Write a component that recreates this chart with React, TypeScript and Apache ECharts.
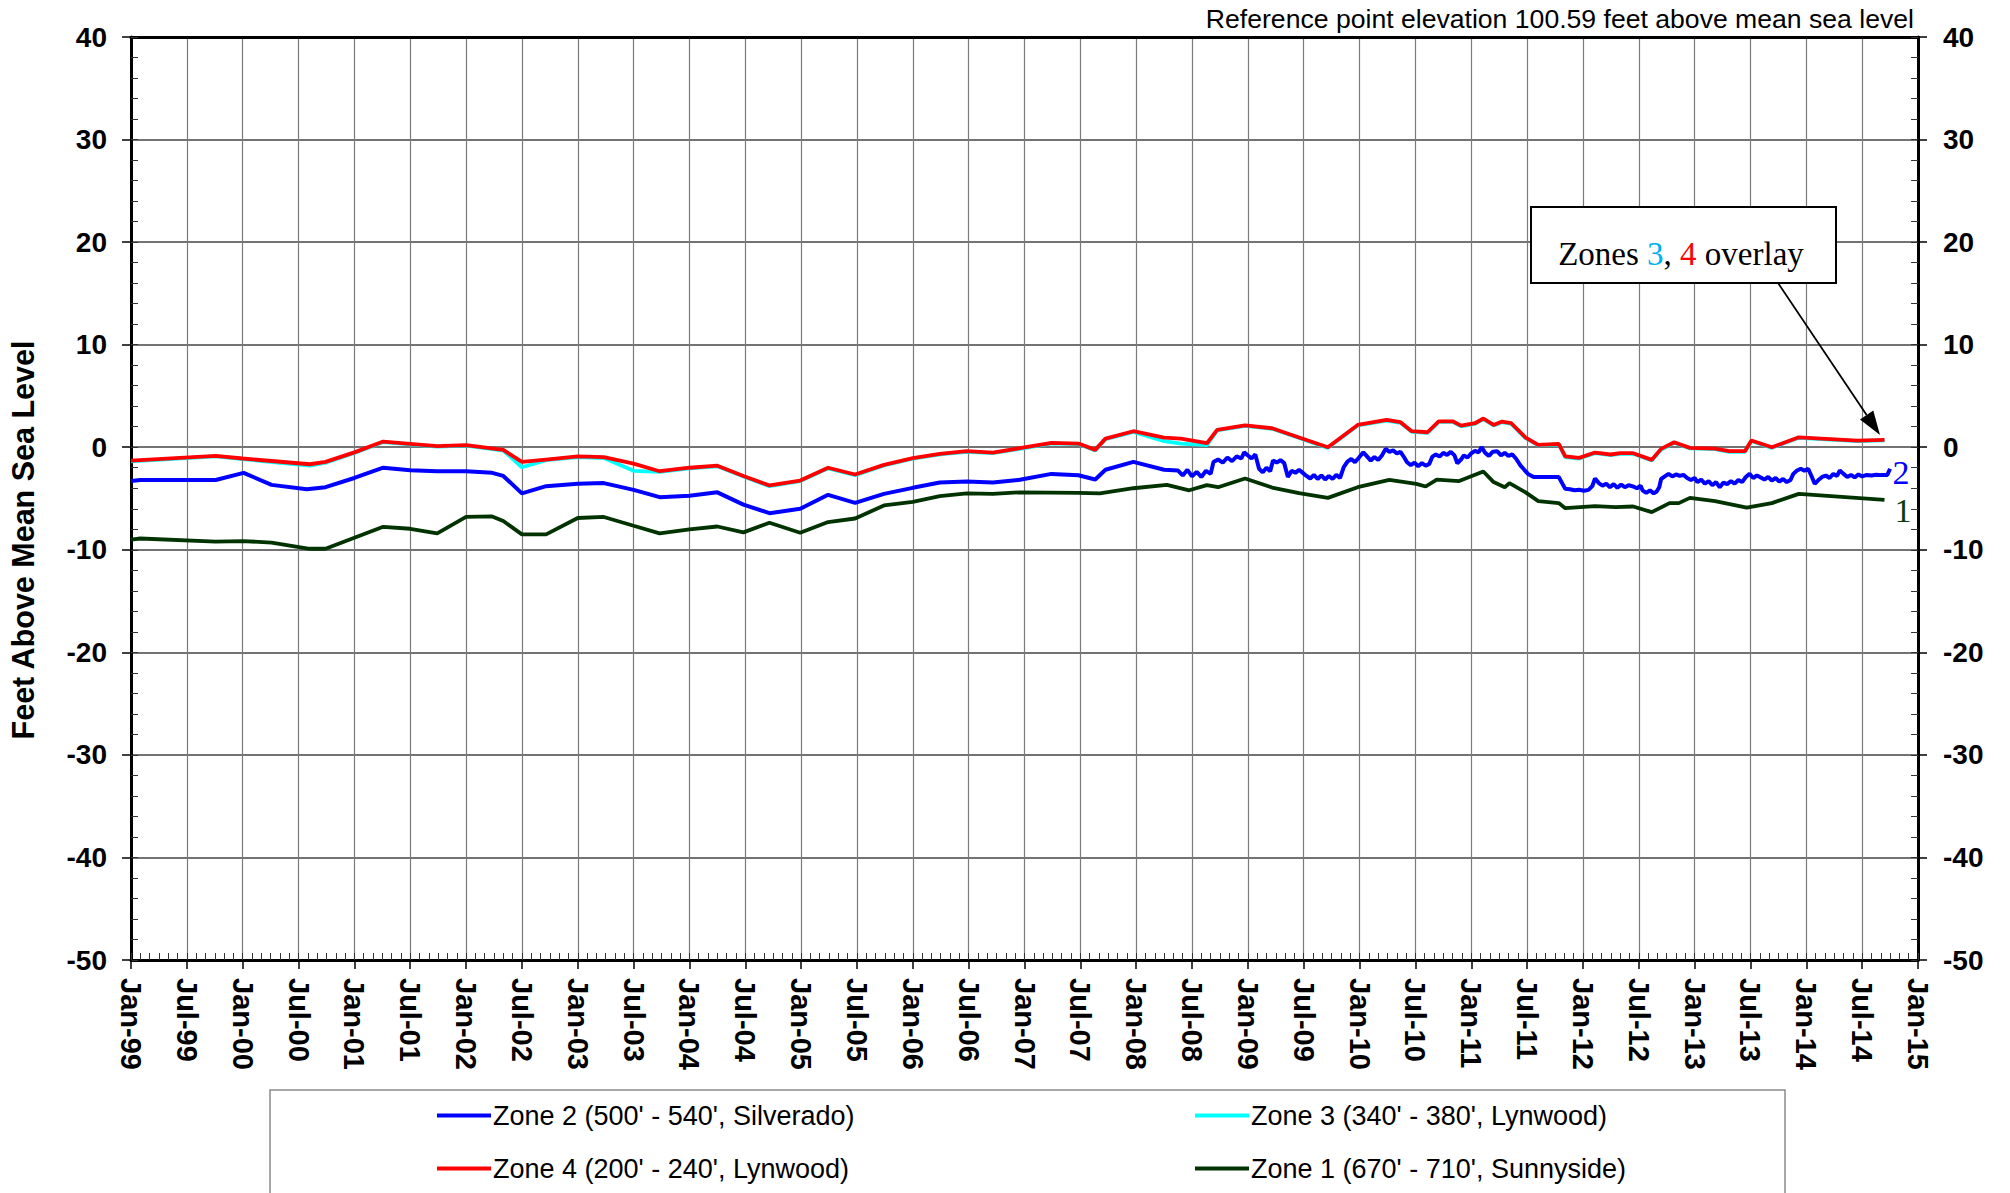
import React, { useEffect, useRef } from "react";
import * as echarts from "echarts";

// x values are months after January 1999
const xTickLabelsMonths = ["Jan", "Jul"];
const startYear = 1999;
const xMin = 0;
const xMax = 192;
const yMin = -50;
const yMax = 40;

const ZONE2 = "Zone 2 (500' - 540', Silverado)";
const ZONE4 = "Zone 4 (200' - 240', Lynwood)";
const ZONE3 = "Zone 3 (340' - 380', Lynwood)";
const ZONE1 = "Zone 1 (670' - 710', Sunnyside)";

const zone4: [number, number][] = [
  [0, -1.3], [9.1, -0.84], [12, -1.1], [19.2, -1.66], [20.9, -1.43],
  [24, -0.5], [27.1, 0.55], [32.9, 0.1], [36, 0.2], [40, -0.26],
  [42, -1.43], [44.6, -1.2], [48, -0.9], [50.8, -0.97], [54, -1.6],
  [56.8, -2.34], [60, -2.0], [63, -1.8], [65.8, -2.8], [68.6, -3.73],
  [71.9, -3.25], [74.9, -2.0], [77.8, -2.66], [80.9, -1.72], [84, -1.07],
  [86.9, -0.65], [89.8, -0.39], [92.6, -0.52], [95.5, -0.1], [98.9, 0.42],
  [101.8, 0.36], [103.6, -0.26], [104.7, 0.84], [107.7, 1.56], [111, 0.94],
  [112.8, 0.84], [115.6, 0.39], [116.7, 1.69], [119.7, 2.14], [122.6, 1.85],
  [125.5, 0.95], [128.6, 0.0], [131.8, 2.17], [134.9, 2.66], [136.4, 2.44],
  [137.6, 1.56], [139.3, 1.46], [140.5, 2.53], [142, 2.53], [142.9, 2.1],
  [144.4, 2.34], [145.3, 2.8], [146.4, 2.17], [147.3, 2.5], [148.3, 2.34],
  [149.8, 0.97], [151.2, 0.23], [153.4, 0.32], [154.1, -0.9], [155.6, -1.04],
  [157.3, -0.52], [159, -0.71], [160, -0.58], [161.4, -0.58], [163.4, -1.23],
  [164.4, -0.16], [165.8, 0.49], [167.5, -0.06], [170.2, -0.13], [171.7, -0.39],
  [173.4, -0.39], [174.1, 0.65], [176.3, 0.0], [179.2, 0.97], [185.5, 0.65],
  [188.4, 0.71],
];

const zone3: [number, number][] = [
  [0, -1.38], [9.1, -0.9], [12, -1.16], [19.2, -1.8], [20.9, -1.5],
  [24, -0.56], [27.1, 0.5], [32.9, 0.05], [36, 0.15], [40, -0.32],
  [42, -1.95], [44.6, -1.26], [48, -0.96], [50.8, -1.05], [54, -2.3],
  [56.8, -2.4], [60, -2.06], [63, -1.86], [65.8, -2.86], [68.6, -3.8],
  [71.9, -3.3], [74.9, -2.06], [77.8, -2.72], [80.9, -1.78], [84, -1.12],
  [86.9, -0.7], [89.8, -0.45], [92.6, -0.58], [95.5, -0.16], [98.9, 0.37],
  [101.8, 0.31], [103.6, -0.32], [104.7, 0.79], [107.7, 1.5], [111, 0.6],
  [112.8, 0.35], [115.6, 0.2], [116.7, 1.64], [119.7, 2.08], [122.6, 1.8],
  [125.5, 0.9], [128.6, -0.06], [131.8, 2.12], [134.9, 2.6], [136.4, 2.38],
  [137.6, 1.5], [139.3, 1.4], [140.5, 2.48], [142, 2.47], [142.9, 2.04],
  [144.4, 2.28], [145.3, 2.74], [146.4, 2.12], [147.3, 2.44], [148.3, 2.28],
  [149.8, 0.92], [151.2, 0.18], [153.4, 0.27], [154.1, -0.96], [155.6, -1.1],
  [157.3, -0.58], [159, -0.77], [160, -0.64], [161.4, -0.64], [163.4, -1.29],
  [164.4, -0.22], [165.8, 0.44], [167.5, -0.12], [170.2, -0.19], [171.7, -0.45],
  [173.4, -0.45], [174.1, 0.6], [176.3, -0.06], [179.2, 0.92], [185.5, 0.6],
  [188.4, 0.66],
];

const zone2Quarterly: [number, number][] = [
  [0, -3.3], [1, -3.2], [9.1, -3.2], [12.1, -2.5], [15.1, -3.67],
  [18.9, -4.1], [20.9, -3.9], [24, -3.0], [27.1, -2.0], [30, -2.24],
  [32.9, -2.34], [36, -2.34], [38.8, -2.5], [40, -2.8], [42, -4.5],
  [44.6, -3.8], [48, -3.57], [50.8, -3.5], [54, -4.16], [56.8, -4.87],
  [60, -4.74], [63, -4.4], [65.8, -5.6], [68.6, -6.43], [71.9, -6.0],
  [74.9, -4.64], [77.8, -5.42], [80.9, -4.55], [84, -3.96], [86.9, -3.44],
  [89.8, -3.34], [92.6, -3.44], [95.5, -3.18], [98.9, -2.6], [101.8, -2.73],
  [103.6, -3.15], [104.7, -2.2], [107.7, -1.43], [111, -2.2],
];

const zone2Daily: [number, number][] = [
  [112.5, -2.27], [113.0, -2.75], [113.5, -2.2], [114.0, -2.85], [114.5, -2.4],
  [115.0, -2.9], [115.5, -2.3], [116.0, -2.6], [116.3, -1.45], [116.8, -1.2],
  [117.3, -1.5], [117.8, -1.0], [118.3, -1.35], [118.8, -0.9], [119.3, -1.1],
  [119.6, -0.5], [120.0, -0.8], [120.4, -1.1], [120.8, -0.7], [121.2, -2.1],
  [121.6, -2.45], [122.0, -2.0], [122.4, -2.35], [122.7, -1.3], [123.1, -1.5],
  [123.5, -1.25], [123.9, -1.55], [124.3, -2.9], [124.7, -2.3], [125.1, -2.5],
  [125.5, -2.2], [125.9, -2.5], [126.3, -2.8], [126.7, -3.05], [127.1, -2.7],
  [127.5, -3.1], [127.9, -2.75], [128.3, -3.15], [128.7, -2.8], [129.1, -3.1],
  [129.5, -2.7], [129.9, -3.0], [130.3, -1.95], [130.7, -1.4], [131.1, -1.15],
  [131.5, -1.45], [131.9, -1.05], [132.4, -0.5], [132.8, -0.9], [133.2, -1.3],
  [133.6, -0.95], [134.0, -1.25], [134.4, -0.8], [134.8, -0.16], [135.2, -0.45],
  [135.6, -0.3], [136.0, -0.6], [136.4, -0.45], [136.8, -1.0], [137.1, -1.46],
  [137.5, -1.75], [137.9, -1.5], [138.3, -1.85], [138.7, -1.55], [139.1, -1.8],
  [139.5, -1.62], [139.8, -0.95], [140.2, -0.7], [140.6, -0.9], [141.0, -0.55],
  [141.4, -0.75], [141.8, -0.45], [142.2, -0.8], [142.5, -1.56], [142.9, -1.2],
  [143.2, -0.8], [143.6, -1.0], [144.0, -0.6], [144.4, -0.35], [144.8, -0.5],
  [145.1, 0.0], [145.5, -0.55], [145.9, -0.85], [146.3, -0.45], [146.8, -0.4],
  [147.2, -0.8], [147.6, -0.55], [148.0, -0.85], [148.4, -0.7], [148.8, -1.1],
  [149.3, -1.79], [149.7, -2.2], [150.1, -2.6], [150.7, -2.9], [153.4, -2.9],
  [154.1, -4.06], [154.6, -4.1], [155.1, -4.2], [155.6, -4.15], [156.1, -4.25],
  [156.6, -4.16], [157.0, -3.8], [157.3, -3.05], [157.7, -3.5], [158.1, -3.75],
  [158.5, -3.55], [158.9, -3.9], [159.3, -3.6], [159.7, -3.95], [160.1, -3.65],
  [160.5, -3.9], [160.9, -3.7], [161.4, -3.83], [161.8, -4.0], [162.2, -3.75],
  [162.4, -4.2], [162.8, -4.45], [163.2, -4.2], [163.6, -4.5], [163.9, -4.35],
  [164.2, -3.9], [164.4, -3.1], [164.8, -2.85], [165.2, -2.6], [165.6, -2.85],
  [166.0, -2.65], [166.4, -2.8], [166.8, -2.7], [167.2, -3.0], [167.6, -3.2],
  [168.0, -3.0], [168.3, -3.4], [168.7, -3.15], [169.1, -3.55], [169.5, -3.3],
  [169.9, -3.7], [170.3, -3.4], [170.7, -3.9], [171.1, -3.45], [171.5, -3.6],
  [171.9, -3.3], [172.3, -3.55], [172.7, -3.2], [173.1, -3.4], [173.5, -2.9],
  [173.9, -2.6], [174.3, -3.0], [174.7, -2.75], [175.1, -2.95], [175.5, -3.15],
  [175.9, -2.9], [176.3, -3.25], [176.7, -3.0], [177.1, -3.35], [177.5, -3.1],
  [177.9, -3.4], [178.3, -3.2], [178.6, -2.6], [179.0, -2.27], [179.4, -2.1],
  [179.8, -2.3], [180.2, -2.1], [180.6, -2.9], [180.9, -3.57], [181.3, -3.2],
  [181.7, -2.9], [182.1, -2.76], [182.5, -3.0], [182.9, -2.6], [183.3, -2.8],
  [183.6, -2.27], [184.0, -2.6], [184.4, -2.9], [184.8, -2.7], [185.2, -2.95],
  [185.6, -2.65], [186.0, -2.85], [186.5, -2.7], [187.0, -2.75], [187.5, -2.68],
  [188.0, -2.72], [188.7, -2.7], [189.0, -2.1],
];

const zone1: [number, number][] = [
  [0, -9.0], [1, -8.9], [9.1, -9.2], [12, -9.15], [15.1, -9.3],
  [19.2, -9.9], [20.9, -9.9], [24, -8.83], [27.1, -7.76], [30, -7.95],
  [32.9, -8.4], [36, -6.8], [38.8, -6.75], [40, -7.2], [42, -8.5],
  [44.6, -8.5], [48, -6.9], [50.8, -6.8], [54, -7.66], [56.8, -8.4],
  [60, -8.0], [63, -7.73], [65.8, -8.3], [68.6, -7.37], [71.9, -8.34],
  [74.9, -7.3], [77.8, -6.95], [80.9, -5.68], [84, -5.32], [86.9, -4.77],
  [89.8, -4.5], [92.6, -4.55], [95.5, -4.4], [101.8, -4.45], [104.1, -4.5],
  [107.7, -4.0], [111.3, -3.67], [113.7, -4.2], [115.6, -3.7], [116.8, -3.9],
  [119.7, -3.05], [122.6, -3.93], [125.5, -4.48], [128.6, -4.94], [131.8, -3.9],
  [135.2, -3.18], [138.1, -3.57], [139.1, -3.83], [140.3, -3.15], [142.7, -3.3],
  [145.3, -2.37], [146.4, -3.4], [147.6, -3.9], [148.1, -3.5], [149.8, -4.38],
  [151.2, -5.26], [153.4, -5.45], [154.1, -5.94], [157.3, -5.75], [159.5, -5.84],
  [161.4, -5.78], [163.4, -6.33], [165.3, -5.45], [166.3, -5.45], [167.5, -4.94],
  [170.2, -5.26], [173.6, -5.9], [176.3, -5.45], [179.2, -4.55], [188.4, -5.13],
];

const SANS = '"Liberation Sans", Arial, sans-serif';
const SERIF = '"Liberation Serif", "Times New Roman", serif';

const monthLabel = (v: number) => {
  const m = Math.round(v);
  const yr = (startYear + Math.floor(m / 12)) % 100;
  return `${xTickLabelsMonths[m % 12 === 0 ? 0 : 1]}-${String(yr).padStart(2, "0")}`;
};

const lineSeries = (name: string, data: [number, number][], color: string, z: number, width: number) => ({
  name,
  type: "line",
  data,
  showSymbol: false,
  symbol: "none",
  z,
  lineStyle: { color, width },
  itemStyle: { color },
  emphasis: { disabled: true },
});

const arrowStart = [1778, 283];
const arrowTip = [1880, 435];

function buildOption() {
  const dx = arrowTip[0] - arrowStart[0];
  const dy = arrowTip[1] - arrowStart[1];
  const len = Math.sqrt(dx * dx + dy * dy);
  const ux = dx / len;
  const uy = dy / len;
  const headL = 24;
  const headW = 8;
  const bx = arrowTip[0] - ux * headL;
  const by = arrowTip[1] - uy * headL;
  const px = -uy * headW;
  const py = ux * headW;

  const yLabel = { fontFamily: SANS, fontSize: 28, fontWeight: "bold", color: "#000" };
  const legendText = { fontFamily: SANS, fontSize: 27, color: "#000", padding: [0, 0, 0, -3] };

  return {
    animation: false,
    backgroundColor: "#fff",
    grid: { left: 131, right: 92, top: 37, bottom: 233, containLabel: false },
    xAxis: [
      {
        type: "value",
        min: xMin,
        max: xMax,
        interval: 6,
        position: "bottom",
        axisLine: { show: true, onZero: false, lineStyle: { color: "#000", width: 3 } },
        axisTick: { show: true, inside: false, length: 9, lineStyle: { color: "#000", width: 1.5 } },
        axisLabel: {
          show: true,
          rotate: -90,
          margin: 18,
          fontFamily: SANS,
          fontSize: 29,
          fontWeight: "bold",
          color: "#000",
          formatter: monthLabel,
        },
        splitLine: { show: true, lineStyle: { color: "#7a7a7a", width: 1.2 } },
      },
      {
        type: "value",
        min: xMin,
        max: xMax,
        interval: 1,
        position: "bottom",
        axisLine: { show: false, onZero: false },
        axisTick: { show: true, inside: true, length: 7, lineStyle: { color: "#333", width: 1 } },
        axisLabel: { show: false },
        splitLine: { show: false },
      },
      {
        type: "value",
        min: xMin,
        max: xMax,
        interval: 6,
        position: "top",
        axisLine: { show: true, onZero: false, lineStyle: { color: "#000", width: 3 } },
        axisTick: { show: false },
        axisLabel: { show: false },
        splitLine: { show: false },
      },
    ],
    yAxis: [
      {
        type: "value",
        min: yMin,
        max: yMax,
        interval: 10,
        position: "left",
        axisLine: { show: true, onZero: false, lineStyle: { color: "#000", width: 3 } },
        axisTick: { show: true, inside: false, length: 9, lineStyle: { color: "#000", width: 1.5 } },
        axisLabel: { ...yLabel, margin: 24 },
        splitLine: { show: true, lineStyle: { color: "#444", width: 1.5 } },
      },
      {
        type: "value",
        min: yMin,
        max: yMax,
        interval: 2,
        position: "left",
        axisLine: { show: false, onZero: false },
        axisTick: { show: true, inside: true, length: 7, lineStyle: { color: "#333", width: 1 } },
        axisLabel: { show: false },
        splitLine: { show: false },
      },
      {
        type: "value",
        min: yMin,
        max: yMax,
        interval: 10,
        position: "right",
        axisLine: { show: true, onZero: false, lineStyle: { color: "#000", width: 3 } },
        axisTick: { show: true, inside: false, length: 9, lineStyle: { color: "#000", width: 1.5 } },
        axisLabel: { ...yLabel, margin: 25 },
        splitLine: { show: false },
      },
      {
        type: "value",
        min: yMin,
        max: yMax,
        interval: 2,
        position: "right",
        axisLine: { show: false, onZero: false },
        axisTick: { show: true, inside: true, length: 7, lineStyle: { color: "#333", width: 1 } },
        axisLabel: { show: false },
        splitLine: { show: false },
      },
    ],
    legend: [
      {
        data: [ZONE2, ZONE4],
        orient: "vertical",
        left: 432,
        top: 1097,
        itemGap: 26,
        itemWidth: 54,
        itemHeight: 4,
        icon: "rect",
        selectedMode: false,
        textStyle: legendText,
      },
      {
        data: [ZONE3, ZONE1],
        orient: "vertical",
        left: 1190,
        top: 1097,
        itemGap: 26,
        itemWidth: 54,
        itemHeight: 4,
        icon: "rect",
        selectedMode: false,
        textStyle: legendText,
      },
    ],
    series: [
      lineSeries(ZONE1, zone1, "#003300", 3, 3.8),
      lineSeries(ZONE2, [...zone2Quarterly, ...zone2Daily], "#0000ff", 4, 4),
      lineSeries(ZONE3, zone3, "#00ffff", 5, 3.8),
      lineSeries(ZONE4, zone4, "#ff0000", 6, 3.8),
    ],
    graphic: [
      {
        type: "rect",
        z: 0,
        shape: { x: 270, y: 1090, width: 1515, height: 200 },
        style: { fill: "none", stroke: "#8a8a8a", lineWidth: 1.5 },
      },
      {
        type: "text",
        x: 1914,
        y: 19,
        style: {
          text: "Reference point elevation 100.59 feet above mean sea level",
          fontFamily: SANS,
          fontSize: 26.6,
          fill: "#000",
          align: "right",
          verticalAlign: "middle",
          textAlign: "right",
          textVerticalAlign: "middle",
        },
      },
      {
        type: "text",
        x: 23,
        y: 540,
        rotation: Math.PI / 2,
        style: {
          text: "Feet Above Mean Sea Level",
          fontFamily: SANS,
          fontSize: 30.5,
          fontWeight: "bold",
          fill: "#000",
          align: "center",
          verticalAlign: "middle",
          textAlign: "center",
          textVerticalAlign: "middle",
        },
      },
      {
        type: "rect",
        z: 10,
        shape: { x: 1531, y: 207, width: 305, height: 76 },
        style: { fill: "#fff", stroke: "#000", lineWidth: 2 },
      },
      {
        type: "text",
        z: 11,
        x: 1681,
        y: 254,
        style: {
          text: "{a|Zones }{b|3}{a|, }{c|4}{a| overlay}",
          fontFamily: SERIF,
          fontSize: 33,
          align: "center",
          verticalAlign: "middle",
          textAlign: "center",
          textVerticalAlign: "middle",
          rich: {
            a: { fontFamily: SERIF, fontSize: 33, fill: "#000", color: "#000" },
            b: { fontFamily: SERIF, fontSize: 33, fill: "#00b0f0", color: "#00b0f0" },
            c: { fontFamily: SERIF, fontSize: 33, fill: "#ff0000", color: "#ff0000" },
          },
        },
      },
      {
        type: "line",
        z: 11,
        shape: { x1: arrowStart[0], y1: arrowStart[1], x2: bx, y2: by },
        style: { stroke: "#000", lineWidth: 1.8 },
      },
      {
        type: "polygon",
        z: 11,
        shape: {
          points: [
            [arrowTip[0], arrowTip[1]],
            [bx + px, by + py],
            [bx - px, by - py],
          ],
        },
        style: { fill: "#000" },
      },
      {
        type: "text",
        z: 11,
        x: 1901,
        y: 472,
        style: {
          text: "2",
          fontFamily: SERIF,
          fontSize: 34,
          fill: "#0000ff",
          align: "center",
          verticalAlign: "middle",
          textAlign: "center",
          textVerticalAlign: "middle",
        },
      },
      {
        type: "text",
        z: 11,
        x: 1903,
        y: 510,
        style: {
          text: "1",
          fontFamily: SERIF,
          fontSize: 34,
          fill: "#0b3d0b",
          align: "center",
          verticalAlign: "middle",
          textAlign: "center",
          textVerticalAlign: "middle",
        },
      },
    ],
  };
}

export default function App() {
  const ref = useRef<HTMLDivElement>(null);
  useEffect(() => {
    document.body.style.margin = "0";
    if (!ref.current) return;
    const chart = echarts.init(ref.current, null, { renderer: "svg", width: 2010, height: 1193 });
    chart.setOption(buildOption() as any);
    return () => chart.dispose();
  }, []);
  return <div ref={ref} style={{ width: 2010, height: 1193, overflow: "hidden" }} />;
}
